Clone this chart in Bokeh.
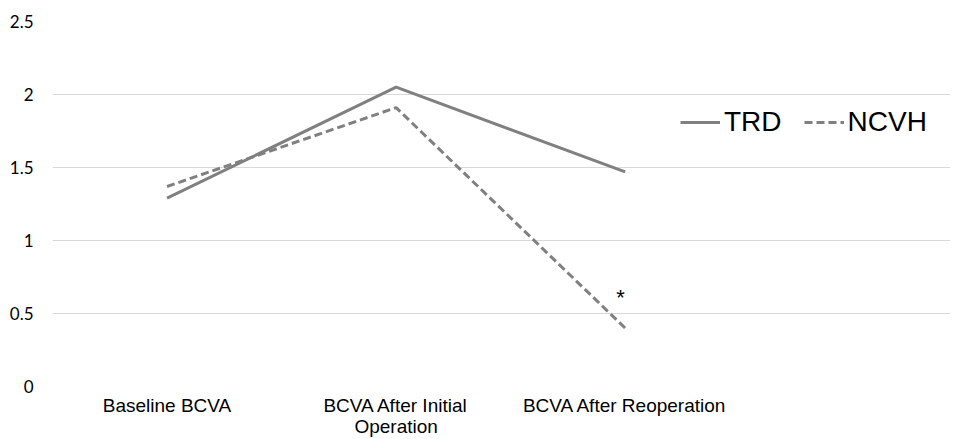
from bokeh.plotting import figure
from bokeh.models import Range1d, FixedTicker, Legend, LegendItem, ColumnDataSource
from bokeh.core.properties import value
from bokeh.embed import file_html
from bokeh.resources import INLINE
import numpy as np

categories = ["Baseline BCVA", "BCVA After Initial\nOperation", "BCVA After Reoperation"]
trd = [1.29, 2.05, 1.47]
ncvh = [1.37, 1.91, 0.40]
y_ticks = [0, 0.5, 1, 1.5, 2, 2.5]
y_tick_labels = ["0", "0.5", "1", "1.5", "2", "2.5"]
star_text = ["*"]
star_y = [0.61]

xs = np.arange(len(categories)) + 0.5

p = figure(width=950, height=439, output_backend="svg", toolbar_location=None,
           x_range=Range1d(0, 3.92), y_range=Range1d(0, 2.5),
           min_border_left=52, min_border_right=0, min_border_top=21, min_border_bottom=40)
p.outline_line_color = None
p.background_fill_color = "white"
p.border_fill_color = "white"

p.xgrid.grid_line_color = None
p.ygrid.grid_line_color = "#d9d9d9"
p.ygrid.grid_line_width = 1
p.ygrid.ticker = FixedTicker(ticks=y_ticks)

p.yaxis.ticker = FixedTicker(ticks=y_ticks)
p.yaxis.major_label_overrides = {t: l for t, l in zip(y_ticks, y_tick_labels)}
p.yaxis.axis_line_color = None
p.yaxis.major_tick_line_color = None
p.yaxis.minor_tick_line_color = None
p.yaxis.major_tick_out = 0
p.yaxis.major_label_standoff = 19
p.yaxis.major_label_text_font = "Lato"
p.yaxis.major_label_text_font_size = "17px"
p.yaxis.major_label_text_color = "#000000"

p.xaxis.ticker = FixedTicker(ticks=list(xs))
p.xaxis.major_label_overrides = {float(x): c for x, c in zip(xs, categories)}
p.xaxis.axis_line_color = None
p.xaxis.major_tick_line_color = None
p.xaxis.minor_tick_line_color = None
p.xaxis.major_tick_out = 0
p.xaxis.major_tick_in = 0
p.xaxis.major_label_standoff = 8
p.xaxis.major_label_text_font = "Liberation Sans"
p.xaxis.major_label_text_font_size = "19px"
p.xaxis.major_label_text_line_height = 1.0
p.xaxis.major_label_text_color = "#000000"

src = ColumnDataSource(dict(x=xs, trd=trd, ncvh=ncvh))
r1 = p.line("x", "trd", source=src, line_color="#808080", line_width=3)
r2 = p.line("x", "ncvh", source=src, line_color="#808080", line_width=3, line_dash="8 4")

ssrc = ColumnDataSource(dict(x=[xs[2] - 0.02], y=star_y, t=star_text))
p.text("x", "y", text="t", source=ssrc, text_font=value("Liberation Sans"),
       text_font_size="22px", text_align="center", text_baseline="middle", text_color="#000000")

legend = Legend(items=[LegendItem(label="TRD", renderers=[r1]),
                       LegendItem(label="NCVH", renderers=[r2])],
                orientation="horizontal", location=(628, 248))
legend.label_text_font = "Liberation Sans"
legend.label_text_font_size = "28px"
legend.label_text_color = "#000000"
legend.glyph_width = 40
legend.glyph_height = 30
legend.label_standoff = 4
legend.spacing = 22
legend.padding = 0
legend.margin = 0
legend.border_line_color = None
legend.background_fill_alpha = 0
p.add_layout(legend)

open("out.html", "w").write(file_html(p, INLINE))
